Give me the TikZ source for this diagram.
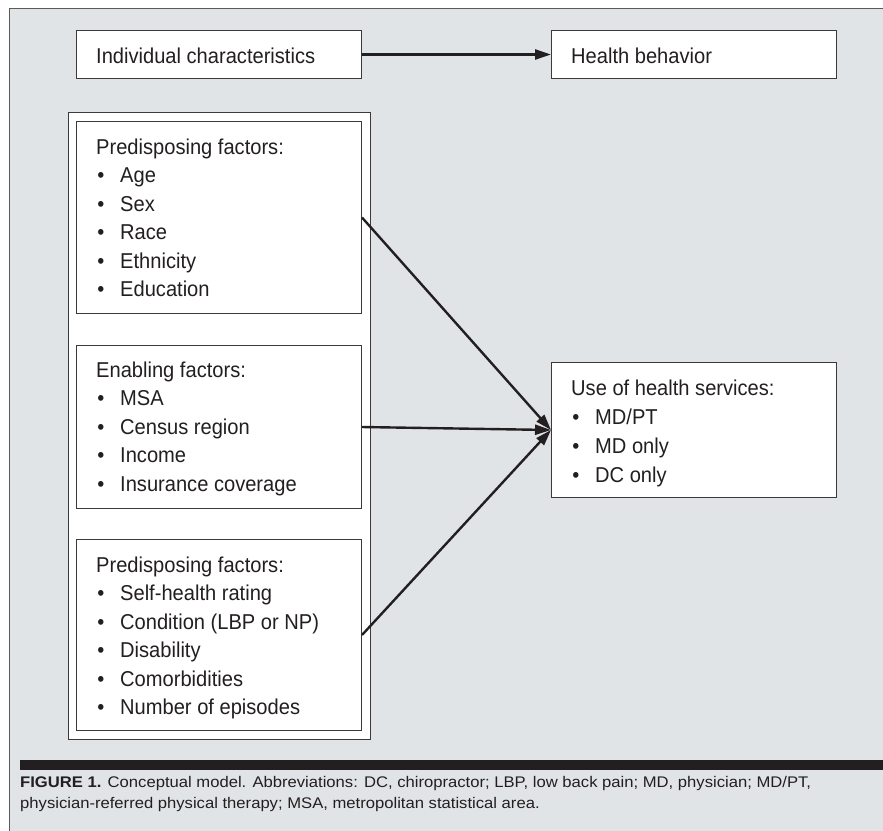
\documentclass[tikz,border=0pt]{standalone}
\usepackage{fontspec}
\setmainfont{Liberation Sans}[FakeStretch=0.935]
\newfontfamily\capfont{Liberation Sans}[FakeStretch=1.08]
\usetikzlibrary{arrows.meta}
\definecolor{framegray}{HTML}{E1E4E7}
\definecolor{frameedge}{HTML}{5A5A5A}
\definecolor{edge}{HTML}{3A3A3A}
\definecolor{ink}{HTML}{231F20}
\begin{document}
\begin{tikzpicture}[x=1pt,y=-1pt,
  box/.style={draw=edge,fill=white,line width=1pt,inner sep=0pt,anchor=north west},
  conn/.style={draw=ink,line width=2.4pt,-{Triangle[length=16pt,width=10pt]}},
  txt/.style={anchor=base west,inner sep=0pt,font=\fontsize{21.5}{24}\selectfont,text=ink},
  bul/.style={anchor=base,inner sep=0pt,font=\fontsize{21.5}{24}\selectfont,text=ink},
  captxt/.style={anchor=base west,inner sep=0pt,font=\capfont\fontsize{15.4}{18}\selectfont,text=ink}]
\useasboundingbox (0,0) rectangle (883,830);
\fill[white] (0,0) rectangle (883,830);
\fill[framegray] (9,8) rectangle (884,831);
\draw[frameedge,line width=1pt] (9,831) -- (9,8) -- (884,8);

% top row
\node[box,minimum width=285pt,minimum height=48pt] (ind) at (76,30) {};
\node[box,minimum width=285pt,minimum height=48pt] (hb) at (551,30) {};
\node[txt] (tind) at (96,63) {Individual characteristics};
\node[txt] (thb) at (571,63) {Health behavior};

% outer and inner boxes
\node[box,minimum width=302pt,minimum height=627pt] (outer) at (68,112) {};
\node[box,minimum width=285pt,minimum height=192pt] (p1) at (76,121) {};
\node[box,minimum width=285pt,minimum height=163pt] (p2) at (76,345) {};
\node[box,minimum width=285pt,minimum height=191pt] (p3) at (76,539) {};
\node[box,minimum width=285pt,minimum height=135pt] (use) at (551,362) {};

% box 1 text
\node[txt] (h1) at (96,154) {Predisposing factors:};
\foreach \t [count=\i] in {Age,Sex,Race,Ethnicity,Education}{
  \node[bul] (b1\i) at (101,154+28.5*\i) {•};
  \node[txt] (a1\i) at (120,154+28.5*\i) {\t};
}
% box 2 text
\node[txt] (h2) at (96,377) {Enabling factors:};
\foreach \t [count=\i] in {MSA,Census region,Income,Insurance coverage}{
  \node[bul] (b2\i) at (101,377+28.5*\i) {•};
  \node[txt] (a2\i) at (120,377+28.5*\i) {\t};
}
% box 3 text
\node[txt] (h3) at (96,572) {Predisposing factors:};
\foreach \t [count=\i] in {Self-health rating,Condition (LBP or NP),Disability,Comorbidities,Number of episodes}{
  \node[bul] (b3\i) at (101,572+28.5*\i) {•};
  \node[txt] (a3\i) at (120,572+28.5*\i) {\t};
}
% use box text
\node[txt] (h4) at (571,395) {Use of health services:};
\foreach \t [count=\i] in {MD/PT,MD only,DC only}{
  \node[bul] (b4\i) at (576,395+29*\i) {•};
  \node[txt] (a4\i) at (595,395+29*\i) {\t};
}

% connectors
\draw[conn] (ind.east) -- (hb.west);
\draw[conn] (p1.east) -- (use.west);
\draw[conn] (p2.east) -- (use.west);
\draw[conn] (p3.east) -- (use.west);

% caption
\fill[ink] (20,760) rectangle (884,770);
\node[captxt] (c1) at (20,787) {\textbf{FIGURE 1.} Conceptual model. Abbreviations: DC, chiropractor; LBP, low back pain; MD, physician; MD/PT,};
\node[captxt] (c2) at (20,808) {physician-referred physical therapy; MSA, metropolitan statistical area.};
\end{tikzpicture}
\end{document}
